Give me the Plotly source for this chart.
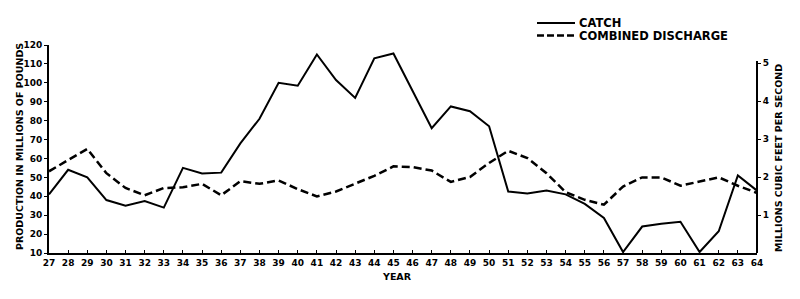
import plotly.graph_objects as go

years = list(range(27, 65))
year_labels = [str(y) for y in years]
catch = [41, 54, 50, 38, 35, 37.5, 34, 55, 52, 52.5, 68, 81, 100, 98.5, 115,
         101.5, 92, 113, 115.5, 96, 76, 87.5, 85, 77, 42.5, 41.5, 43, 41, 36,
         28.5, 10.5, 24, 25.5, 26.5, 10.5, 21.5, 51, 43]
discharge = [2.15, 2.44, 2.74, 2.1, 1.71, 1.52, 1.71, 1.73, 1.82, 1.52, 1.89,
             1.82, 1.91, 1.68, 1.49, 1.62, 1.82, 2.03, 2.28, 2.26, 2.17, 1.87,
             2.0, 2.37, 2.69, 2.5, 2.1, 1.6, 1.4, 1.27, 1.75, 1.99, 1.99, 1.77,
             1.88, 1.99, 1.77, 1.58]
left_ticks = list(range(10, 130, 10))
right_ticks = [1, 2, 3, 4, 5]

W, H = 800, 299
L, R, T, B = 49, 43, 45, 46
pw, ph = W - L - R, H - T - B

def px(x):
    return (x - L) / pw

def py(y):
    return (H - B - y) / ph

tickfont = dict(family="DejaVu Sans", size=9, color="black", weight="bold")
labfont = dict(family="DejaVu Sans", size=9.5, color="black", weight="bold")
legfont = dict(family="DejaVu Sans", size=11.5, color="black", weight="bold")

fig = go.Figure()
fig.add_trace(go.Scatter(x=years, y=catch, mode="lines", name="CATCH",
                         line=dict(color="black", width=2), showlegend=False))
fig.add_trace(go.Scatter(x=years, y=discharge, mode="lines", name="COMBINED DISCHARGE",
                         yaxis="y2", line=dict(color="black", width=2.5, dash="8px,4px"),
                         showlegend=False))

fig.update_layout(
    width=W, height=H,
    margin=dict(l=L, r=R, t=T, b=B),
    paper_bgcolor="white", plot_bgcolor="white",
    xaxis=dict(range=[27, 64], tickvals=years, ticktext=year_labels,
               showline=True, linecolor="black", linewidth=2,
               ticks="inside", ticklen=3, tickcolor="black",
               showgrid=False, zeroline=False, tickfont=tickfont),
    yaxis=dict(range=[10, 120], tickvals=left_ticks,
               showline=True, linecolor="black", linewidth=2,
               ticks="outside", ticklen=3, tickcolor="black",
               showgrid=False, zeroline=False, tickfont=tickfont),
    yaxis2=dict(range=[0, ph / 38.0], overlaying="y", side="right",
                tickvals=right_ticks, showline=False,
                ticks="outside", ticklen=3, tickcolor="black",
                showgrid=False, zeroline=False, tickfont=tickfont),
)

# right axis line (only up to 5)
fig.add_shape(type="line", xref="paper", x0=1, x1=1, yref="y2", y0=0, y1=5.05,
              line=dict(color="black", width=2))

# axis titles
fig.add_annotation(text="PRODUCTION IN MILLIONS OF POUNDS", xref="paper", yref="paper",
                   x=px(19), y=py(147), textangle=-90, showarrow=False, borderpad=0,
                   font=labfont, xanchor="center", yanchor="middle")
fig.add_annotation(text="MILLIONS CUBIC FEET PER SECOND", xref="paper", yref="paper",
                   x=px(778), y=py(158), textangle=-90, showarrow=False, borderpad=0,
                   font=labfont, xanchor="center", yanchor="middle")
fig.add_annotation(text="YEAR", xref="paper", yref="paper",
                   x=px(397), y=py(276), showarrow=False, borderpad=0,
                   font=labfont, xanchor="center", yanchor="middle")

# legend
fig.add_shape(type="line", xref="paper", yref="paper", x0=px(537), x1=px(575),
              y0=py(23), y1=py(23), line=dict(color="black", width=2))
fig.add_shape(type="line", xref="paper", yref="paper", x0=px(537), x1=px(575),
              y0=py(35.5), y1=py(35.5), line=dict(color="black", width=2.5, dash="7px,3px"))
fig.add_annotation(text="CATCH", xref="paper", yref="paper", x=px(578), y=py(22.5),
                   showarrow=False, borderpad=0, font=legfont, xanchor="left", yanchor="middle")
fig.add_annotation(text="COMBINED DISCHARGE", xref="paper", yref="paper", x=px(578), y=py(35.5),
                   showarrow=False, borderpad=0, font=legfont, xanchor="left", yanchor="middle")

fig.write_html("out.html")
